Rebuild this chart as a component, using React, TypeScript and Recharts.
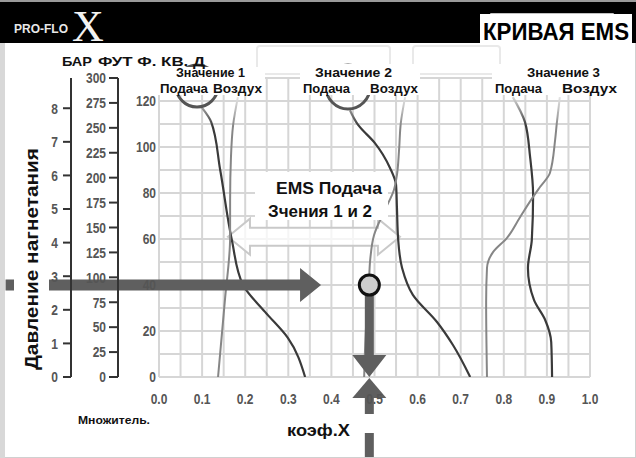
import React from "react";
import {
  CartesianGrid,
  Line,
  LineChart,
  ReferenceDot,
  ReferenceLine,
  XAxis,
  YAxis,
} from "recharts";

// axis ticks
const xTicks = [0, 0.05, 0.1, 0.15, 0.2, 0.25, 0.3, 0.35, 0.4, 0.45, 0.5, 0.55, 0.6, 0.65, 0.7, 0.75, 0.8, 0.85, 0.9, 0.95, 1.0];
const yTicks = [0, 10, 20, 30, 40, 50, 60, 70, 80, 90, 100, 110, 120];
const ftTicks = [0, 25, 50, 75, 100, 125, 150, 175, 200, 225, 250, 275, 300];
const barTicks = [0, 1, 2, 3, 4, 5, 6, 7, 8];

// curves, listed from the bottom (y = 0) upward
const feed1X = [0.339, 0.299, 0.246, 0.195, 0.169, 0.142, 0.121, 0.1];
const feed1Y = [0, 17, 28.3, 40, 59.6, 90, 110.9, 117];
const air1X = [0.137, 0.153, 0.165, 0.165, 0.167, 0.172, 0.183];
const air1Y = [0, 33.5, 60.9, 77, 95.7, 109.6, 121.7];

const feed2X = [0.722, 0.682, 0.645, 0.589, 0.564, 0.555, 0.552, 0.55, 0.536, 0.501, 0.462, 0.443];
const feed2Y = [0, 13.9, 23.9, 35.7, 47.4, 59.6, 73.9, 83.5, 90.9, 101.7, 109.6, 116];
const air2X = [0.476, 0.48, 0.487, 0.49, 0.499, 0.524, 0.545, 0.552, 0.557, 0.561, 0.571];
const air2Y = [0, 20.4, 40, 50.9, 61.7, 72.6, 81.3, 87.8, 98.7, 110.4, 121.7];

const feed3X = [0.912, 0.91, 0.896, 0.87, 0.856, 0.865, 0.868, 0.861, 0.849, 0.821];
const feed3Y = [0, 15.2, 24.8, 33.5, 47.4, 59.6, 79.1, 95.7, 110.9, 121.7];
const air3X = [0.761, 0.759, 0.761, 0.775, 0.807, 0.838, 0.868, 0.884, 0.907, 0.919, 0.923, 0.93];
const air3Y = [0, 32.6, 47.4, 54.3, 60.4, 69.6, 78.3, 82.6, 88.7, 103, 110.4, 121.7];

// the worked reading: pressure 40 -> koef 0.488
const readY = 40;
const readX = 0.488;

const zip = (xs: number[], ys: number[]) => xs.map((x, i) => ({ x, y: ys[i] }));

const SANS = '"Liberation Sans", Arial, sans-serif';
const ARROW = "#5f5f5f";

// recharts stacks left axes by id, first id nearest the plot
const MAIN = "a_main";
const FT = "b_ft";
const BAR = "c_bar";

const fmtX = (v: number) => (Math.abs(v * 10 - Math.round(v * 10)) < 1e-6 ? v.toFixed(1) : "");
const fmtY = (v: number) => (v % 20 === 0 ? String(v) : "");
const fmtPlain = (v: number) => String(v);

// condensed grey tick labels
const makeTick = (fmt: (v: number) => string, dy: string) => (props: any) => {
  const { x, y, payload, textAnchor } = props;
  const label = fmt(payload.value);
  if (!label) return <g />;
  return (
    <text
      x={0}
      y={0}
      dy={dy}
      transform={`translate(${x},${y}) scale(0.8,1)`}
      textAnchor={textAnchor}
      fontFamily={SANS}
      fontWeight={700}
      fontSize={15}
      fill="#555"
    >
      {label}
    </text>
  );
};

const HArrow = (p: any) => {
  const { x1, x2, y1 } = p;
  const y = y1;
  const h = x2 - 21;
  return (
    <polygon
      points={`${x1},${y - 5.5} ${h},${y - 5.5} ${h},${y - 17} ${x2},${y} ${h},${y + 17} ${h},${y + 5.5} ${x1},${y + 5.5}`}
      fill={ARROW}
    />
  );
};

const DownArrow = (p: any) => {
  const { x1, y1, y2 } = p;
  const b = y2 - 22;
  return (
    <polygon
      points={`${x1 - 4.5},${y1} ${x1 + 4.5},${y1} ${x1 + 4.5},${b} ${x1 + 17},${b} ${x1},${y2} ${x1 - 17},${b} ${x1 - 4.5},${b}`}
      fill={ARROW}
    />
  );
};

const UpArrow = (p: any) => {
  const { x1, y1, y2 } = p;
  const tip = y2 + 1;
  const b = tip + 20;
  return (
    <g fill={ARROW}>
      <polygon points={`${x1},${tip} ${x1 + 17},${b} ${x1 - 17},${b}`} />
      <rect x={x1 - 4.5} y={b} width={9} height={16} />
      <rect x={x1 - 4.5} y={b + 35} width={9} height={y1 - b - 35} />
    </g>
  );
};

const DoubleArrow = (p: any) => {
  const { x1, x2, y1 } = p;
  const y = y1;
  const l = x1 + 22;
  const r = x2 - 22;
  return (
    <polygon
      points={`${x1},${y} ${l},${y - 18} ${l},${y - 9} ${r},${y - 9} ${r},${y - 18} ${x2},${y} ${r},${y + 18} ${r},${y + 9} ${l},${y + 9} ${l},${y + 18}`}
      fill="#fff"
      fillOpacity={0.75}
      stroke="#c9c9c9"
      strokeWidth={2}
    />
  );
};

const series = [
  { key: "feed1", data: zip(feed1X, feed1Y), feed: true },
  { key: "air1", data: zip(air1X, air1Y), feed: false },
  { key: "feed2", data: zip(feed2X, feed2Y), feed: true },
  { key: "air2", data: zip(air2X, air2Y), feed: false },
  { key: "feed3", data: zip(feed3X, feed3Y), feed: true },
  { key: "air3", data: zip(air3X, air3Y), feed: false },
];

const Label = ({ x, y, w, children, size = 12 }: any) => (
  <text x={x} y={y} fontFamily={SANS} fontWeight={700} fontSize={size} fill="#111" textLength={w} lengthAdjust="spacingAndGlyphs">
    {children}
  </text>
);

const axisStroke = { stroke: "#333", strokeWidth: 2 };

export default function App() {
  return (
    <div style={{ position: "absolute", left: 0, top: 0, width: 636, height: 458, background: "#fff", overflow: "hidden" }}>
      <LineChart width={636} height={458} margin={{ top: 78, right: 46, bottom: 51, left: 31 }}>
        <defs>
          <linearGradient id="feedGrad" gradientUnits="userSpaceOnUse" x1="0" y1="98" x2="0" y2="126">
            <stop offset="0%" stopColor="#d2d2d2" />
            <stop offset="100%" stopColor="#3a3a3a" />
          </linearGradient>
          <linearGradient id="airGrad" gradientUnits="userSpaceOnUse" x1="0" y1="98" x2="0" y2="126">
            <stop offset="0%" stopColor="#e2e2e2" />
            <stop offset="100%" stopColor="#868686" />
          </linearGradient>
        </defs>
        <CartesianGrid yAxisId={MAIN} stroke="#d6d6d6" strokeWidth={2} />
        <XAxis
          type="number"
          dataKey="x"
          domain={[0, 1]}
          ticks={xTicks}
          interval={0}
          axisLine={false}
          tickLine={false}
          tickSize={0}
          tickMargin={16}
          height={30}
          tick={makeTick(fmtX, "0.71em")}
        />
        <YAxis
          yAxisId={MAIN}
          type="number"
          domain={[0, 130]}
          allowDataOverflow
          ticks={yTicks}
          interval={0}
          width={41}
          axisLine={false}
          tickLine={false}
          tickSize={0}
          tickMargin={3}
          tick={makeTick(fmtY, "0.355em")}
        />
        <YAxis
          yAxisId={FT}
          type="number"
          domain={[0, 300]}
          allowDataOverflow
          ticks={ftTicks}
          interval={0}
          width={47}
          axisLine={axisStroke}
          tickLine={axisStroke}
          tickSize={9}
          tickMargin={3}
          tick={makeTick(fmtPlain, "0.355em")}
        />
        <YAxis
          yAxisId={BAR}
          type="number"
          domain={[0, 8.9]}
          allowDataOverflow
          ticks={barTicks}
          interval={0}
          width={40}
          axisLine={axisStroke}
          tickLine={axisStroke}
          tickSize={8}
          tickMargin={5}
          tick={makeTick(fmtPlain, "0.355em")}
        />
        <ReferenceLine
          yAxisId={MAIN}
          segment={[{ x: 0.16, y: 61 }, { x: 0.559, y: 61 }]}
          ifOverflow="visible"
          shape={DoubleArrow}
        />
        {series.map((s) => (
          <Line
            key={s.key}
            data={s.data}
            dataKey="y"
            yAxisId={MAIN}
            type="monotoneY"
            stroke={s.feed ? "url(#feedGrad)" : "url(#airGrad)"}
            strokeWidth={s.feed ? 2.2 : 2}
            dot={false}
            activeDot={false}
            isAnimationActive={false}
          />
        ))}
        <ReferenceLine
          yAxisId={MAIN}
          segment={[{ x: -0.356, y: readY }, { x: 0.376, y: readY }]}
          ifOverflow="visible"
          shape={HArrow}
        />
        <ReferenceLine
          yAxisId={MAIN}
          segment={[{ x: readX, y: readY }, { x: readX, y: 0 }]}
          ifOverflow="visible"
          shape={DownArrow}
        />
        <ReferenceLine
          yAxisId={MAIN}
          segment={[{ x: readX, y: -35.5 }, { x: readX, y: 0 }]}
          ifOverflow="visible"
          shape={UpArrow}
        />
        <ReferenceDot
          yAxisId={MAIN}
          x={readX}
          y={readY}
          r={10}
          fill="#cdcdcd"
          stroke="#111"
          strokeWidth={3}
          ifOverflow="visible"
        />
      </LineChart>

      <svg width={636} height={458} style={{ position: "absolute", left: 0, top: 0, pointerEvents: "none" }}>
        {/* frame */}
        <rect x={0.5} y={0.5} width={635} height={457} fill="none" stroke="#d0d0d0" />
        <rect x={0} y={0} width={5} height={458} fill="#d8d8d8" />
        {/* header */}
        <rect x={0} y={0} width={636} height={2} fill="#9a9a9a" />
        <rect x={0} y={2} width={636} height={41} fill="#000" />
        <text x={14} y={33} fontFamily={SANS} fontWeight={700} fontSize={13} fill="#e8e8e8" textLength={54} lengthAdjust="spacingAndGlyphs">
          PRO-FLO
        </text>
        <text x={72} y={41} fontFamily='"Liberation Serif", serif' fontSize={44} fill="#f2f2f2">
          X
        </text>
        <rect x={491} y={14} width={122} height={30} fill="none" stroke="#fff" strokeWidth={1.5} />
        <rect x={480} y={14} width={152} height={31} fill="#fff" />
        <text x={483} y={40} fontFamily={SANS} fontWeight={700} fontSize={23} fill="#000" textLength={146} lengthAdjust="spacingAndGlyphs">
          КРИВАЯ EMS
        </text>
        {/* faint boxes under header */}
        <rect x={257} y={46} width={133} height={28} rx={3} fill="none" stroke="#e9e9e9" strokeWidth={2} />
        <rect x={413} y={46} width={87} height={28} rx={3} fill="none" stroke="#e9e9e9" strokeWidth={2} />

        {/* pressure title */}
        <rect x={14} y={145} width={35} height={228} fill="#fff" />
        <text
          transform="translate(38,259) rotate(-90)"
          textAnchor="middle"
          fontFamily={SANS}
          fontWeight={700}
          fontSize={19}
          fill="#111"
          textLength={222}
          lengthAdjust="spacingAndGlyphs"
        >
          Давление нагнетания
        </text>

        {/* valve labels */}
        <circle cx={197} cy={86} r={21} fill="none" stroke="#555" strokeWidth={3} />
        <circle cx={348} cy={87} r={22} fill="none" stroke="#555" strokeWidth={3} />
        <rect x={158} y={67} width={107} height={28} fill="#fff" />
        <rect x={300} y={64} width={120} height={31} fill="#fff" />
        <rect x={492} y={64} width={128} height={31} fill="#fff" />
        <Label x={176} y={77} w={69}>Значение 1</Label>
        <Label x={160} y={93} w={48}>Подача</Label>
        <Label x={213} y={93} w={49}>Воздух</Label>
        <Label x={315} y={77} w={77}>Значение 2</Label>
        <Label x={303} y={93} w={47}>Подача</Label>
        <Label x={370} y={93} w={48}>Воздух</Label>
        <Label x={527} y={77} w={73}>Значение 3</Label>
        <Label x={495} y={93} w={47}>Подача</Label>
        <Label x={562} y={93} w={55}>Воздух</Label>

        {/* scale titles */}
        <Label x={62} y={66} w={30} size={13}>БАР</Label>
        <Label x={98} y={66} w={107} size={13}>ФУТ Ф. КВ. Д</Label>

        {/* EMS box */}
        <rect x={255} y={172} width={133} height={48} fill="#fff" />
        <Label x={276} y={194} w={106} size={17}>EMS Подача</Label>
        <Label x={268} y={217} w={104} size={17}>Зчения 1 и 2</Label>

        {/* bottom captions */}
        <Label x={78} y={424} w={72} size={11}>Множитель.</Label>
        <Label x={287} y={436} w={63} size={16}>коэф.X</Label>
      </svg>
    </div>
  );
}
